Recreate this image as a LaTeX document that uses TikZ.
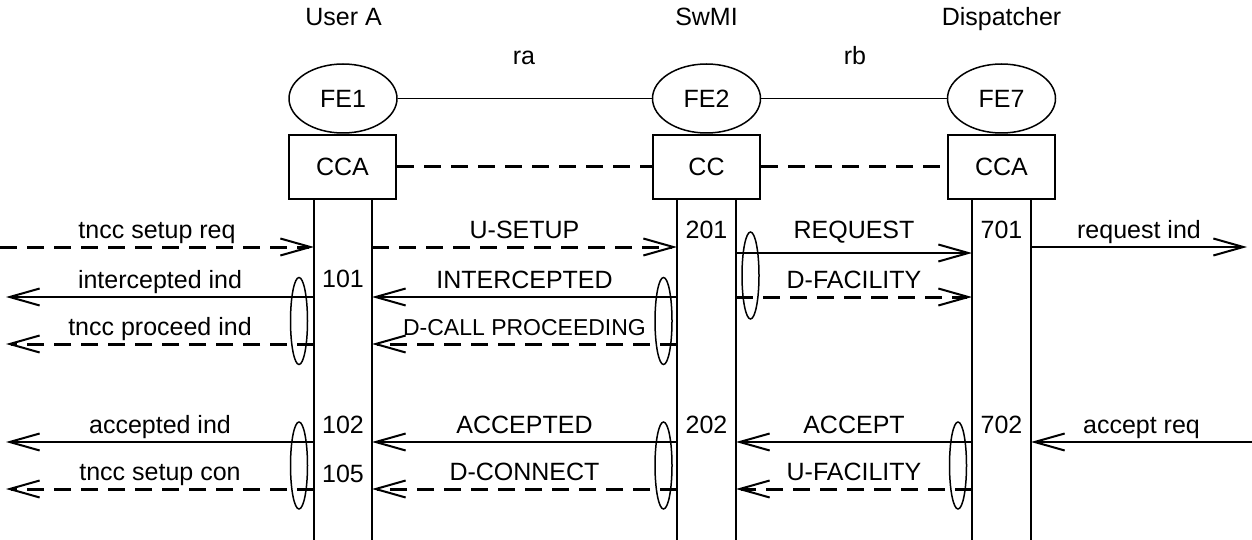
\documentclass[tikz,border=0pt]{standalone}
\usepackage{fontspec}
\setmainfont{Liberation Sans}
\usetikzlibrary{arrows.meta,shapes.geometric,calc}
\begin{document}
\begin{tikzpicture}[x=1pt,y=-1pt,
  every node/.style={font=\fontsize{25}{29}\selectfont, inner sep=0pt},
  fe/.style={draw, ellipse, line width=1.5pt, minimum width=108pt, minimum height=69pt},
  fa/.style={draw, rectangle, line width=2pt, minimum width=107pt, minimum height=64pt},
  relline/.style={line width=1pt},
  faline/.style={line width=3pt, dash pattern=on 17pt off 10pt},
  life/.style={line width=2pt},
  msg/.style={line width=2pt, -{Straight Barb[length=30pt,width=17pt,line width=2pt]}},
  dmsg/.style={msg, line width=3pt, dash pattern=on 17pt off 10pt},
  lbl/.style={midway, anchor=base, yshift=9pt},
  slbl/.style={lbl, font=\fontsize{23}{27}\selectfont},
  num/.style={anchor=base},
  grp/.style={draw, ellipse, line width=1.5pt, minimum width=17pt, minimum height=87pt}
]
\useasboundingbox (0,0) rectangle (1252,540);

% headers
\node[num] (hA) at (343.5,26) {User A};
\node[num] (hS) at (706.5,26) {SwMI};
\node[num] (hD) at (1001.5,26) {Dispatcher};
\node[num] (ra) at (524,65) {ra};
\node[num] (rb) at (855,65) {rb};

% functional entities
\node[fe] (fe1) at (343,98.5) {FE1};
\node[fe] (fe2) at (706.5,98.5) {FE2};
\node[fe] (fe7) at (1001.5,98.5) {FE7};
\node[fa] (fa1) at (342.5,167) {CCA};
\node[fa] (fa2) at (706.5,167) {CC};
\node[fa] (fa7) at (1001.5,167) {CCA};
\draw[relline] (fe1) -- (fe2);
\draw[relline] (fe2) -- (fe7);
\draw[faline] (fa1) -- (fa2);
\draw[faline] (fa2) -- (fa7);

% lifelines
\coordinate (aL) at (314,199); \coordinate (aR) at (372,199);
\coordinate (sL) at (677,199); \coordinate (sR) at (736,199);
\coordinate (dL) at (972,199); \coordinate (dR) at (1031,199);
\coordinate (bot) at (0,540);
\foreach \c in {aL,aR,sL,sR,dL,dR} \draw[life] (\c) -- (\c |- bot);

% rows and outer ends
\coordinate (y1) at (0,247);
\coordinate (y1b) at (0,253);
\coordinate (y2) at (0,297);
\coordinate (y3) at (0,344);
\coordinate (y4) at (0,442);
\coordinate (y5) at (0,489);
\coordinate (W0) at (0,0);
\coordinate (W) at (6,0);
\coordinate (E) at (1247,0);
\coordinate (E0) at (1252,0);

% messages
\draw[dmsg] (W0|-y1) -- node[lbl]{tncc setup req} (aL|-y1);
\draw[dmsg] (aR|-y1) -- node[lbl]{U-SETUP} (sL|-y1);
\draw[msg] (sR|-y1b) -- node[lbl, yshift=6pt]{REQUEST} (dL|-y1b);
\draw[msg] (dR|-y1) -- node[lbl]{request ind} (E|-y1);

\draw[msg] (aL|-y2) -- node[lbl]{intercepted ind} (W|-y2);
\draw[msg] (sL|-y2) -- node[lbl]{INTERCEPTED} (aR|-y2);
\draw[dmsg] (sR|-y2) -- node[lbl]{D-FACILITY} (dL|-y2);

\draw[dmsg] (aL|-y3) -- node[lbl]{tncc proceed ind} (W|-y3);
\draw[dmsg] (sL|-y3) -- node[slbl]{D-CALL PROCEEDING} (aR|-y3);

\draw[msg] (aL|-y4) -- node[lbl]{accepted ind} (W|-y4);
\draw[msg] (sL|-y4) -- node[lbl]{ACCEPTED} (aR|-y4);
\draw[msg] (dL|-y4) -- node[lbl]{ACCEPT} (sR|-y4);
\draw[msg] (E0|-y4) -- node[lbl]{accept req} (dR|-y4);

\draw[dmsg] (aL|-y5) -- node[lbl]{tncc setup con} (W|-y5);
\draw[dmsg] (sL|-y5) -- node[lbl]{D-CONNECT} (aR|-y5);
\draw[dmsg] (dL|-y5) -- node[lbl]{U-FACILITY} (sR|-y5);

% state numbers
\node[num] (n101) at (343,287) {101};
\node[num] (n102) at (343,433) {102};
\node[num] (n105) at (343,482) {105};
\node[num] (n201) at (706.5,238) {201};
\node[num] (n202) at (706.5,433) {202};
\node[num] (n701) at (1001.5,238) {701};
\node[num] (n702) at (1001.5,433) {702};

% grouping ellipses
\node[grp] (g1) at (299,321) {};
\node[grp] (g2) at (663.5,321) {};
\node[grp] (g3) at (750.5,275.5) {};
\node[grp] (g4) at (299,465.5) {};
\node[grp] (g5) at (663.5,465.5) {};
\node[grp] (g6) at (958,465.5) {};
\end{tikzpicture}
\end{document}
